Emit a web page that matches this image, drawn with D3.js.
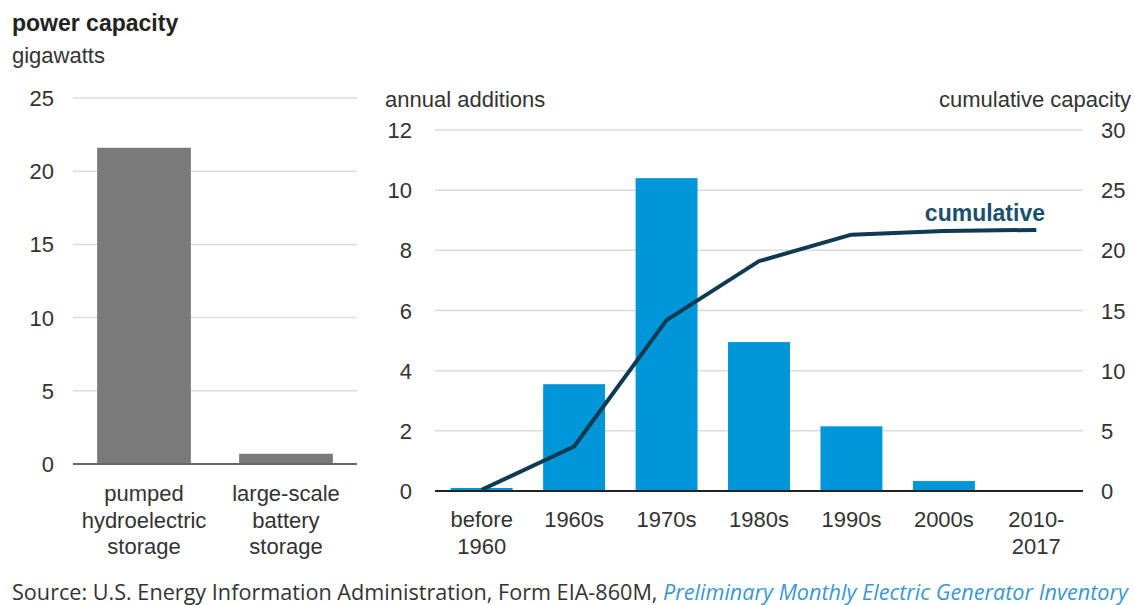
<!DOCTYPE html>
<html>
<head>
<meta charset="utf-8">
<script src="https://cdn.jsdelivr.net/npm/d3@7"></script>
<style>
  body { margin: 0; background: #fff; }
  svg { font-family: "Liberation Sans", Arial, sans-serif; }
</style>
</head>
<body>
<svg id="chart" width="1134" height="605"></svg>
<script>
// left panel: total capacity by storage type
var storageTypes = [["pumped", "hydroelectric", "storage"], ["large-scale", "battery", "storage"]];
var storageCapacity = [21.6, 0.7];
var leftTicks = [0, 5, 10, 15, 20, 25];

// right panel: additions by decade + cumulative
var decades = [["before", "1960"], ["1960s"], ["1970s"], ["1980s"], ["1990s"], ["2000s"], ["2010-", "2017"]];
var additions = [0.1, 3.55, 10.4, 4.95, 2.15, 0.33, 0.02];
var cumulative = [0.1, 3.7, 14.2, 19.1, 21.3, 21.6, 21.7];
var leftAxisTicks = [0, 2, 4, 6, 8, 10, 12];
var rightAxisTicks = [0, 5, 10, 15, 20, 25, 30];

var svg = d3.select("#chart");
var gridColor = "#dcdcdc";
var textColor = "#333";
var fs = 22;

// titles
svg.append("text").attr("x", 12).attr("y", 31).attr("font-size", 23).attr("font-weight", "bold")
    .attr("fill", "#222").text("power capacity");
svg.append("text").attr("x", 12).attr("y", 63).attr("font-size", fs).attr("fill", textColor).text("gigawatts");

// ---- left chart ----
var yL = d3.scaleLinear().domain([0, 25]).range([464, 98]);
var xL = d3.scaleBand().domain(d3.range(storageTypes.length)).range([73, 357]).paddingInner(0.34).paddingOuter(0.17);

var gl = svg.append("g");
gl.selectAll("line.grid").data(leftTicks.filter(d => d > 0)).enter().append("line")
    .attr("x1", 73).attr("x2", 357)
    .attr("y1", d => yL(d)).attr("y2", d => yL(d))
    .attr("stroke", gridColor).attr("stroke-width", 1.5);
gl.selectAll("text.tick").data(leftTicks).enter().append("text")
    .attr("x", 54).attr("y", d => yL(d) + 8)
    .attr("text-anchor", "end").attr("font-size", fs).attr("fill", textColor)
    .text(d => d);
gl.selectAll("rect").data(storageCapacity).enter().append("rect")
    .attr("x", (d, i) => xL(i)).attr("width", xL.bandwidth())
    .attr("y", d => yL(d)).attr("height", d => yL(0) - yL(d))
    .attr("fill", "#7a7a7a");
gl.append("line").attr("x1", 73).attr("x2", 357).attr("y1", yL(0)).attr("y2", yL(0))
    .attr("stroke", "#666").attr("stroke-width", 2);
storageTypes.forEach(function (lines, i) {
    var t = gl.append("text").attr("text-anchor", "middle").attr("font-size", fs).attr("fill", textColor);
    lines.forEach(function (s, j) {
        t.append("tspan").attr("x", xL(i) + xL.bandwidth() / 2).attr("y", 501 + j * 26.5).text(s);
    });
});

// ---- right chart ----
var x0 = 435, x1 = 1083;
var yA = d3.scaleLinear().domain([0, 12]).range([491, 130]);
var yC = d3.scaleLinear().domain([0, 30]).range([491, 130]);
var xR = d3.scaleBand().domain(d3.range(decades.length)).range([x0, x1]).paddingInner(0.33).paddingOuter(0.17);

var gr = svg.append("g");
svg.append("text").attr("x", 385).attr("y", 107).attr("font-size", fs).attr("fill", textColor).text("annual additions");
svg.append("text").attr("x", 1131).attr("y", 107).attr("text-anchor", "end").attr("font-size", fs)
    .attr("fill", textColor).text("cumulative capacity");

gr.selectAll("line.grid").data(leftAxisTicks.filter(d => d > 0)).enter().append("line")
    .attr("x1", x0).attr("x2", x1)
    .attr("y1", d => yA(d)).attr("y2", d => yA(d))
    .attr("stroke", gridColor).attr("stroke-width", 1.5);
gr.selectAll("text.lt").data(leftAxisTicks).enter().append("text")
    .attr("x", 412).attr("y", d => yA(d) + 8)
    .attr("text-anchor", "end").attr("font-size", fs).attr("fill", textColor)
    .text(d => d);
gr.selectAll("text.rt").data(rightAxisTicks).enter().append("text")
    .attr("x", 1101).attr("y", d => yC(d) + 8)
    .attr("font-size", fs).attr("fill", textColor)
    .text(d => d);

gr.selectAll("rect").data(additions).enter().append("rect")
    .attr("x", (d, i) => xR(i)).attr("width", xR.bandwidth())
    .attr("y", d => yA(d)).attr("height", d => yA(0) - yA(d))
    .attr("fill", "#0096d7");
gr.append("line").attr("x1", x0).attr("x2", x1).attr("y1", yA(0)).attr("y2", yA(0))
    .attr("stroke", "#222").attr("stroke-width", 2);

var line = d3.line()
    .x((d, i) => xR(i) + xR.bandwidth() / 2)
    .y(d => yC(d));
gr.append("path").datum(cumulative).attr("d", line)
    .attr("fill", "none").attr("stroke", "#0e3a52").attr("stroke-width", 4)
    .attr("stroke-linejoin", "round");
gr.append("text").attr("x", 1045).attr("y", 221).attr("text-anchor", "end")
    .attr("font-size", 23).attr("font-weight", "bold").attr("fill", "#1b4f6c").text("cumulative");

decades.forEach(function (lines, i) {
    var t = gr.append("text").attr("text-anchor", "middle").attr("font-size", fs).attr("fill", textColor);
    lines.forEach(function (s, j) {
        t.append("tspan").attr("x", xR(i) + xR.bandwidth() / 2).attr("y", 527 + j * 26.5).text(s);
    });
});

// source
var src = svg.append("text").attr("x", 12).attr("y", 600).attr("font-size", 21.5)
    .attr("font-family", "'Open Sans', 'Liberation Sans', sans-serif").attr("fill", "#333")
    .attr("textLength", 1116).attr("lengthAdjust", "spacingAndGlyphs");
src.append("tspan").text("Source: U.S. Energy Information Administration, Form EIA-860M, ");
src.append("tspan").attr("font-style", "italic").attr("fill", "#3a97d6")
    .text("Preliminary Monthly Electric Generator Inventory");
</script>
</body>
</html>
